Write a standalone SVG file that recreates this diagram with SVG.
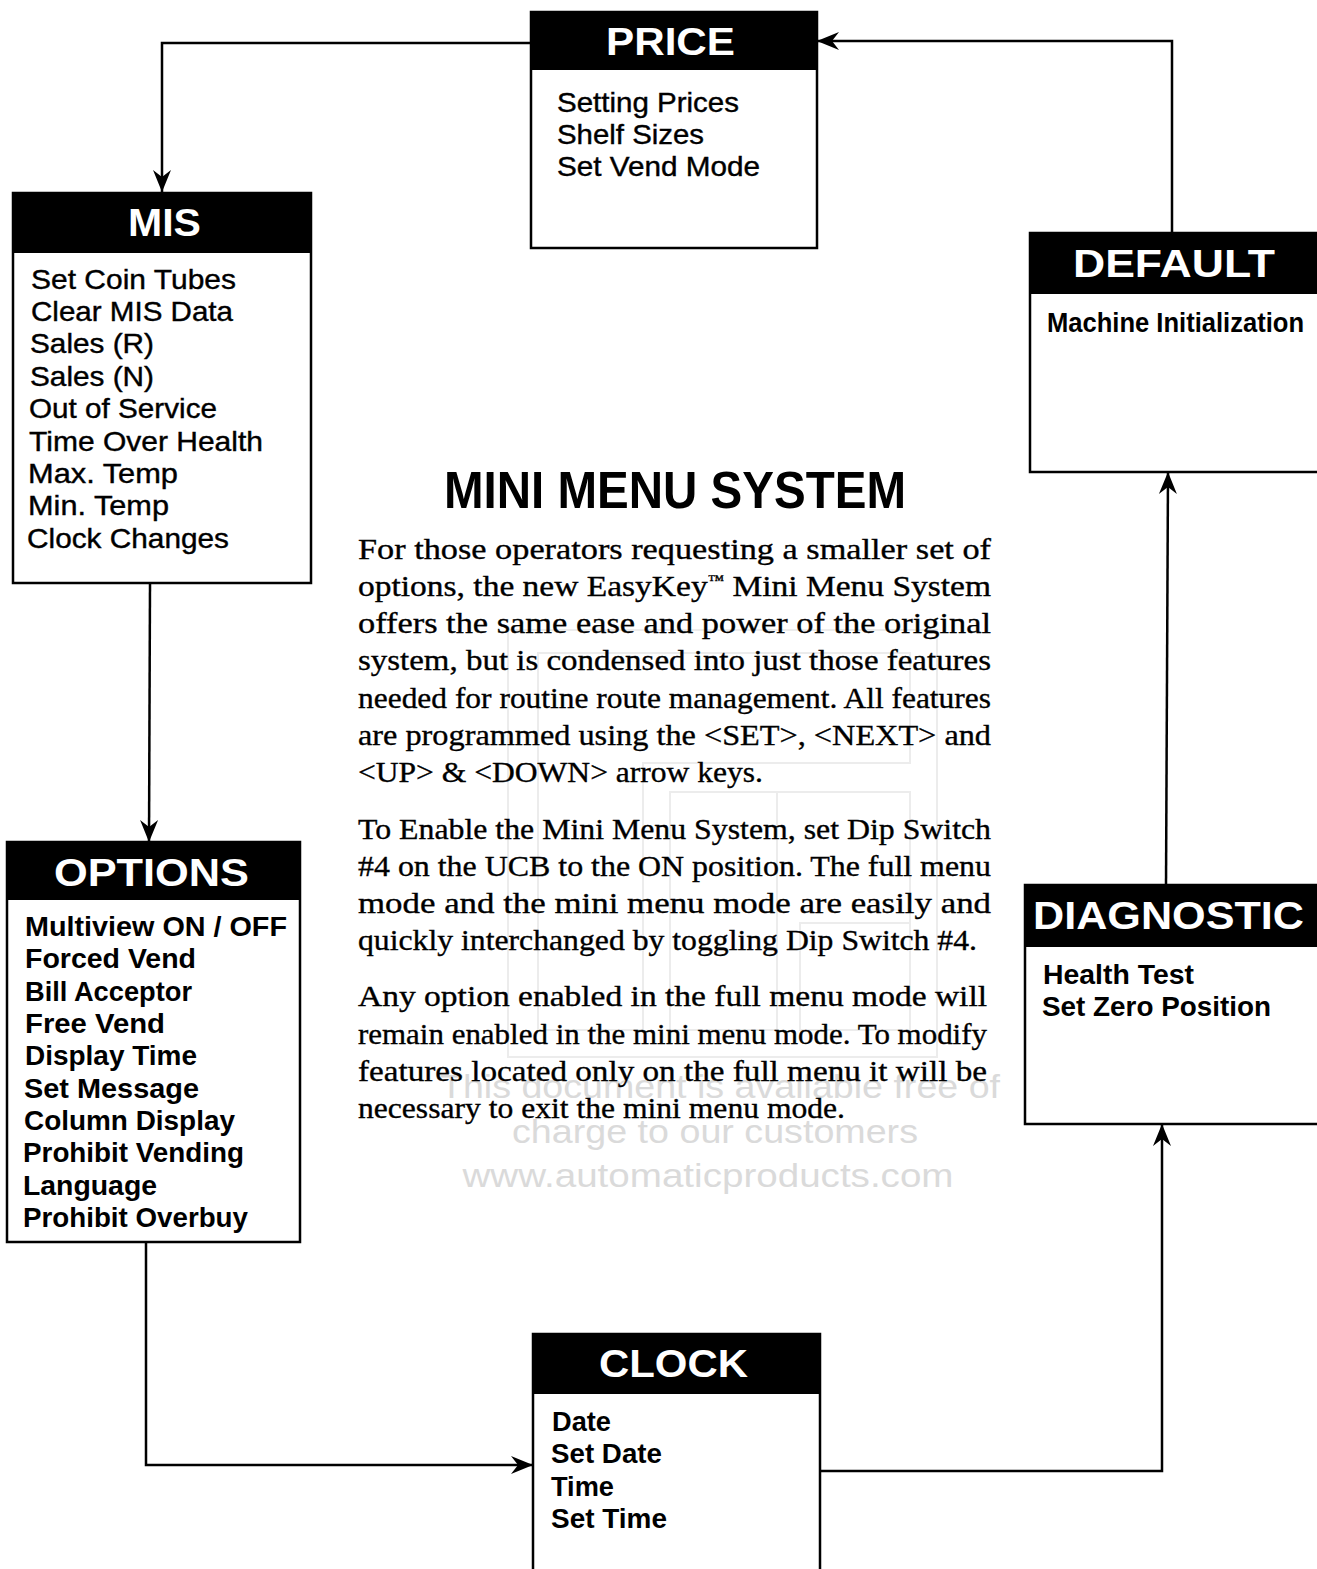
<svg xmlns="http://www.w3.org/2000/svg" width="1317" height="1569" viewBox="0 0 1317 1569">
<style>
.box{fill:#fff;stroke:#000;stroke-width:2.5}
.hdr{fill:#000}
.ht{fill:#fff;font-family:"Liberation Sans",Arial,sans-serif;font-size:38px;font-weight:bold;text-anchor:middle}
.it{fill:#000;stroke:#000;stroke-width:0.4;font-family:"Liberation Sans",Arial,sans-serif;font-size:28px}
.itb{fill:#000;font-family:"Liberation Sans",Arial,sans-serif;font-size:28px;font-weight:bold}
.body{fill:#000;stroke:#000;stroke-width:0.35;font-family:"Liberation Serif","Times New Roman",serif;font-size:30px}
.tm{font-size:15px}
.title{fill:#000;font-family:"Liberation Sans",Arial,sans-serif;font-size:52px;font-weight:bold;text-anchor:middle}
.wm{fill:#dadada;font-family:"Liberation Sans",Arial,sans-serif;font-size:33px;text-anchor:middle}
.wml{fill:none;stroke:#ececec;stroke-width:2}
.con{fill:none;stroke:#000;stroke-width:2.5}
</style>
<defs>
<marker id="arr" viewBox="-24 -10 26 20" refX="0" refY="0" markerWidth="26" markerHeight="20" markerUnits="userSpaceOnUse" orient="auto">
<path d="M0,0 L-22,-9 L-15,0 L-22,9 Z" fill="#000"/>
</marker>
</defs>
<rect x="0" y="0" width="1317" height="1569" fill="#fff"/>

<g id="watermark">
<rect class="wml" x="508" y="630" width="429" height="427"/>
<path class="wml" d="M538,1030 V653 H910 V763 H643 V1030 Z"/>
<rect class="wml" x="670" y="792" width="107" height="238"/>
<path class="wml" d="M777,792 H910 V1030 H800 V923 H910"/>
<text class="wm" x="720" y="1098" textLength="560" lengthAdjust="spacingAndGlyphs">This document is available free of</text>
<text class="wm" x="715" y="1143" textLength="406" lengthAdjust="spacingAndGlyphs">charge to our customers</text>
<text class="wm" x="708" y="1187" textLength="491" lengthAdjust="spacingAndGlyphs">www.automaticproducts.com</text>
</g>

<g id="connectors">
<path class="con" d="M531,43 H162 V192" marker-end="url(#arr)"/>
<path class="con" d="M150,584 L149,842" marker-end="url(#arr)"/>
<path class="con" d="M146,1242 V1465 H533" marker-end="url(#arr)"/>
<path class="con" d="M820,1471 H1162 V1124" marker-end="url(#arr)"/>
<path class="con" d="M1166,885 L1168,472" marker-end="url(#arr)"/>
<path class="con" d="M1172,233 V41 H817" marker-end="url(#arr)"/>
</g>

<g id="price">
<rect class="box" x="531" y="12" width="286" height="236"/>
<rect class="hdr" x="531" y="12" width="286" height="58"/>
<text class="ht" x="670.5" y="55" textLength="129" lengthAdjust="spacingAndGlyphs">PRICE</text>
<text class="it" x="557" y="112" textLength="182" lengthAdjust="spacingAndGlyphs">Setting Prices</text>
<text class="it" x="557" y="144" textLength="147" lengthAdjust="spacingAndGlyphs">Shelf Sizes</text>
<text class="it" x="557" y="176" textLength="203" lengthAdjust="spacingAndGlyphs">Set Vend Mode</text>
</g>

<g id="mis">
<rect class="box" x="13" y="193" width="298" height="390"/>
<rect class="hdr" x="13" y="193" width="298" height="60"/>
<text class="ht" x="164.5" y="236" textLength="73" lengthAdjust="spacingAndGlyphs">MIS</text>
<text class="it" x="31" y="289" textLength="205" lengthAdjust="spacingAndGlyphs">Set Coin Tubes</text>
<text class="it" x="31" y="321" textLength="202" lengthAdjust="spacingAndGlyphs">Clear MIS Data</text>
<text class="it" x="30" y="353" textLength="124" lengthAdjust="spacingAndGlyphs">Sales (R)</text>
<text class="it" x="30" y="386" textLength="124" lengthAdjust="spacingAndGlyphs">Sales (N)</text>
<text class="it" x="29" y="418" textLength="188" lengthAdjust="spacingAndGlyphs">Out of Service</text>
<text class="it" x="29" y="451" textLength="234" lengthAdjust="spacingAndGlyphs">Time Over Health</text>
<text class="it" x="28" y="483" textLength="150" lengthAdjust="spacingAndGlyphs">Max. Temp</text>
<text class="it" x="28" y="515" textLength="141" lengthAdjust="spacingAndGlyphs">Min. Temp</text>
<text class="it" x="27" y="548" textLength="202" lengthAdjust="spacingAndGlyphs">Clock Changes</text>
</g>

<g id="default">
<rect class="box" x="1030" y="233" width="300" height="239"/>
<rect class="hdr" x="1030" y="233" width="300" height="61"/>
<text class="ht" x="1174" y="277" textLength="202" lengthAdjust="spacingAndGlyphs">DEFAULT</text>
<text class="itb" x="1047" y="332" textLength="257" lengthAdjust="spacingAndGlyphs">Machine Initialization</text>
</g>

<g id="diagnostic">
<rect class="box" x="1025" y="885" width="300" height="239"/>
<rect class="hdr" x="1025" y="885" width="300" height="62"/>
<text class="ht" x="1168.5" y="929" textLength="271" lengthAdjust="spacingAndGlyphs">DIAGNOSTIC</text>
<text class="itb" x="1043" y="984" textLength="151" lengthAdjust="spacingAndGlyphs">Health Test</text>
<text class="itb" x="1042" y="1016" textLength="229" lengthAdjust="spacingAndGlyphs">Set Zero Position</text>
</g>

<g id="options">
<rect class="box" x="7" y="842" width="293" height="400"/>
<rect class="hdr" x="7" y="842" width="293" height="58"/>
<text class="ht" x="151.5" y="886" textLength="195" lengthAdjust="spacingAndGlyphs">OPTIONS</text>
<text class="itb" x="25" y="936" textLength="262" lengthAdjust="spacingAndGlyphs">Multiview ON / OFF</text>
<text class="itb" x="25" y="968" textLength="171" lengthAdjust="spacingAndGlyphs">Forced Vend</text>
<text class="itb" x="25" y="1001" textLength="167" lengthAdjust="spacingAndGlyphs">Bill Acceptor</text>
<text class="itb" x="25" y="1033" textLength="140" lengthAdjust="spacingAndGlyphs">Free Vend</text>
<text class="itb" x="25" y="1065" textLength="172" lengthAdjust="spacingAndGlyphs">Display Time</text>
<text class="itb" x="24" y="1098" textLength="175" lengthAdjust="spacingAndGlyphs">Set Message</text>
<text class="itb" x="24" y="1130" textLength="211" lengthAdjust="spacingAndGlyphs">Column Display</text>
<text class="itb" x="23" y="1162" textLength="221" lengthAdjust="spacingAndGlyphs">Prohibit Vending</text>
<text class="itb" x="23" y="1195" textLength="134" lengthAdjust="spacingAndGlyphs">Language</text>
<text class="itb" x="23" y="1227" textLength="225" lengthAdjust="spacingAndGlyphs">Prohibit Overbuy</text>
</g>

<g id="clock">
<rect class="box" x="533" y="1334" width="287" height="260"/>
<rect class="hdr" x="533" y="1334" width="287" height="60"/>
<text class="ht" x="673.5" y="1377" textLength="149" lengthAdjust="spacingAndGlyphs">CLOCK</text>
<text class="itb" x="552" y="1431" textLength="59" lengthAdjust="spacingAndGlyphs">Date</text>
<text class="itb" x="551" y="1463" textLength="111" lengthAdjust="spacingAndGlyphs">Set Date</text>
<text class="itb" x="551" y="1496" textLength="63" lengthAdjust="spacingAndGlyphs">Time</text>
<text class="itb" x="551" y="1528" textLength="116" lengthAdjust="spacingAndGlyphs">Set Time</text>
</g>

<g id="description">
<text class="title" x="675" y="508" textLength="462" lengthAdjust="spacingAndGlyphs">MINI MENU SYSTEM</text>
<text class="body" x="358" y="559" textLength="633" lengthAdjust="spacingAndGlyphs">For those operators requesting a smaller set of</text>
<text class="body" x="358" y="596" textLength="633" lengthAdjust="spacingAndGlyphs">options, the new EasyKey<tspan class="tm" dy="-11">™</tspan><tspan dy="11"> Mini Menu System</tspan></text>
<text class="body" x="358" y="633" textLength="633" lengthAdjust="spacingAndGlyphs">offers the same ease and power of the original</text>
<text class="body" x="358" y="670" textLength="633" lengthAdjust="spacingAndGlyphs">system, but is condensed into just those features</text>
<text class="body" x="358" y="708" textLength="633" lengthAdjust="spacingAndGlyphs">needed for routine route management. All features</text>
<text class="body" x="358" y="745" textLength="633" lengthAdjust="spacingAndGlyphs">are programmed using the &lt;SET&gt;, &lt;NEXT&gt; and</text>
<text class="body" x="358" y="782" textLength="405" lengthAdjust="spacingAndGlyphs">&lt;UP&gt; &amp; &lt;DOWN&gt; arrow keys.</text>
<text class="body" x="358" y="839" textLength="633" lengthAdjust="spacingAndGlyphs">To Enable the Mini Menu System, set Dip Switch</text>
<text class="body" x="358" y="876" textLength="633" lengthAdjust="spacingAndGlyphs">#4 on the UCB to the ON position.  The full menu</text>
<text class="body" x="358" y="913" textLength="633" lengthAdjust="spacingAndGlyphs">mode and the mini menu mode are easily and</text>
<text class="body" x="358" y="950" textLength="619" lengthAdjust="spacingAndGlyphs">quickly interchanged by toggling Dip Switch #4.</text>
<text class="body" x="358" y="1006" textLength="629" lengthAdjust="spacingAndGlyphs">Any option enabled in the full menu mode will</text>
<text class="body" x="358" y="1044" textLength="629" lengthAdjust="spacingAndGlyphs">remain enabled in the mini menu mode.  To modify</text>
<text class="body" x="358" y="1081" textLength="629" lengthAdjust="spacingAndGlyphs">features located only on the full menu it will be</text>
<text class="body" x="358" y="1118" textLength="487" lengthAdjust="spacingAndGlyphs">necessary to exit the mini menu mode.</text>
</g>
</svg>
